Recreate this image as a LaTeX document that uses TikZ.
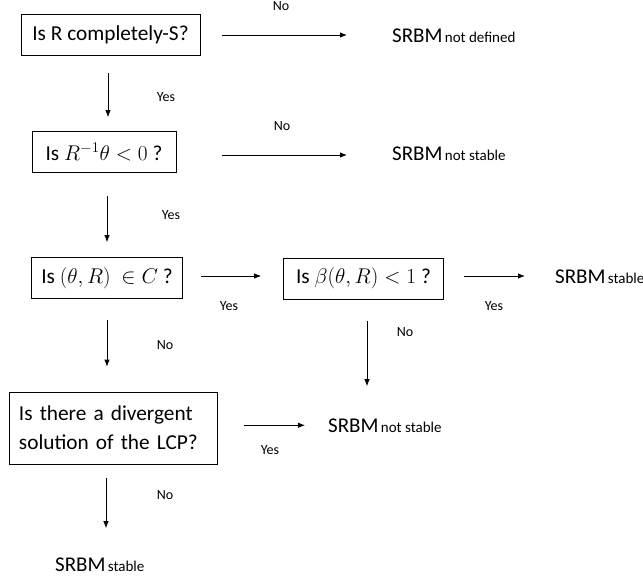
\RequirePackage{fix-cm}
\documentclass[tikz,border=0pt]{standalone}
\usepackage{fontspec}
\setmainfont{Carlito}
\usetikzlibrary{arrows.meta}

\newcommand{\boxfont}{\fontsize{21.3}{29}\selectfont}
\newcommand{\tagfont}{\fontsize{14}{16}\selectfont}
\newcommand{\srbm}[1]{{\fontsize{21}{24}\selectfont SRBM} {\fontsize{15}{18}\selectfont #1}}

\begin{document}
\begin{tikzpicture}[
    x=1pt, y=-1pt,
    question/.style={draw=black, line width=0.8pt, minimum height=41pt, inner xsep=10pt, font=\boxfont},
    outcome/.style={inner sep=0pt, anchor=base west},
    answer/.style={font=\tagfont, inner sep=0pt},
    flow/.style={line width=0.8pt, -{Latex[length=7pt,width=5.5pt]}}
]
\useasboundingbox (0,0) rectangle (643,579);

% questions
\node[question, minimum width=179pt] (q1) at (110.5,35) {Is R completely-S?};
\node[question, minimum width=144pt] (q2) at (104,152) {Is $R^{-1}\theta < 0$ ?};
\node[question, minimum width=150pt] (q3) at (107,278) {Is $(\theta,R)\ \in C$ ?};
\node[question, minimum width=160pt] (q4) at (363.5,278.5) {Is $\beta(\theta,R) < 1$ ?};
\node[question, minimum height=72pt, text width=188pt, align=left] (q5) at (113,428)
    {Is there a divergent\\solution of the LCP?};

% outcomes
\node[outcome] (r1) at (392,42) {\srbm{not defined}};
\node[outcome] (r2) at (392,160) {\srbm{not stable}};
\node[outcome] (r3) at (555,283) {\srbm{stable}};
\node[outcome] (r4) at (328,432) {\srbm{not stable}};
\node[outcome] (r5) at (55,571) {\srbm{stable}};

% connectors
\draw[flow, shorten <=22pt, shorten >=45pt] (q1.east) -- (q1.east -| r1.west);
\draw[flow, shorten <=17pt, shorten >=14pt] ([xshift=-2.5pt]q1.south) -- ([xshift=-2.5pt]q1.south |- q2.north);
\draw[flow, shorten <=46pt, shorten >=45pt] ([yshift=-3pt]q2.east) -- ([yshift=-3pt]q2.east -| r2.west);
\draw[flow, shorten <=23pt, shorten >=15pt] (q2.south) ++(3pt,0) coordinate (d2) (d2) -- (d2 |- q3.north);
\draw[flow, shorten <=18pt, shorten >=22pt] ([yshift=2pt]q3.east) -- ([yshift=2pt]q3.east -| q4.west);
\draw[flow, shorten <=20pt, shorten >=30pt] ([yshift=2.5pt]q4.east) -- ([yshift=2.5pt]q4.east -| r3.west);
\draw[flow, shorten <=21pt, shorten >=25pt] (q3.south) -- (q3.south |- q5.north);
\draw[flow, shorten <=22pt, shorten >=32pt] ([xshift=3.5pt]q4.south) -- ([xshift=3.5pt]q4.south |- r4.north);
\draw[flow, shorten <=27pt, shorten >=23pt] (q5.east |- r4.west) -- (r4.west);
\draw[flow, shorten <=14pt, shorten >=29pt] ([xshift=-7pt]q5.south) -- ([xshift=-7pt]q5.south |- r5.north);

% answers
\node[answer] (n1) at (281,6) {No};
\node[answer] (y1) at (166,97) {Yes};
\node[answer] (n2) at (282,126) {No};
\node[answer] (y2) at (171,215) {Yes};
\node[answer] (y3) at (229,306) {Yes};
\node[answer] (y4) at (494,306) {Yes};
\node[answer] (n3) at (165,345) {No};
\node[answer] (n4) at (405,332) {No};
\node[answer] (y5) at (270,450) {Yes};
\node[answer] (n5) at (165,495) {No};

\end{tikzpicture}
\end{document}
